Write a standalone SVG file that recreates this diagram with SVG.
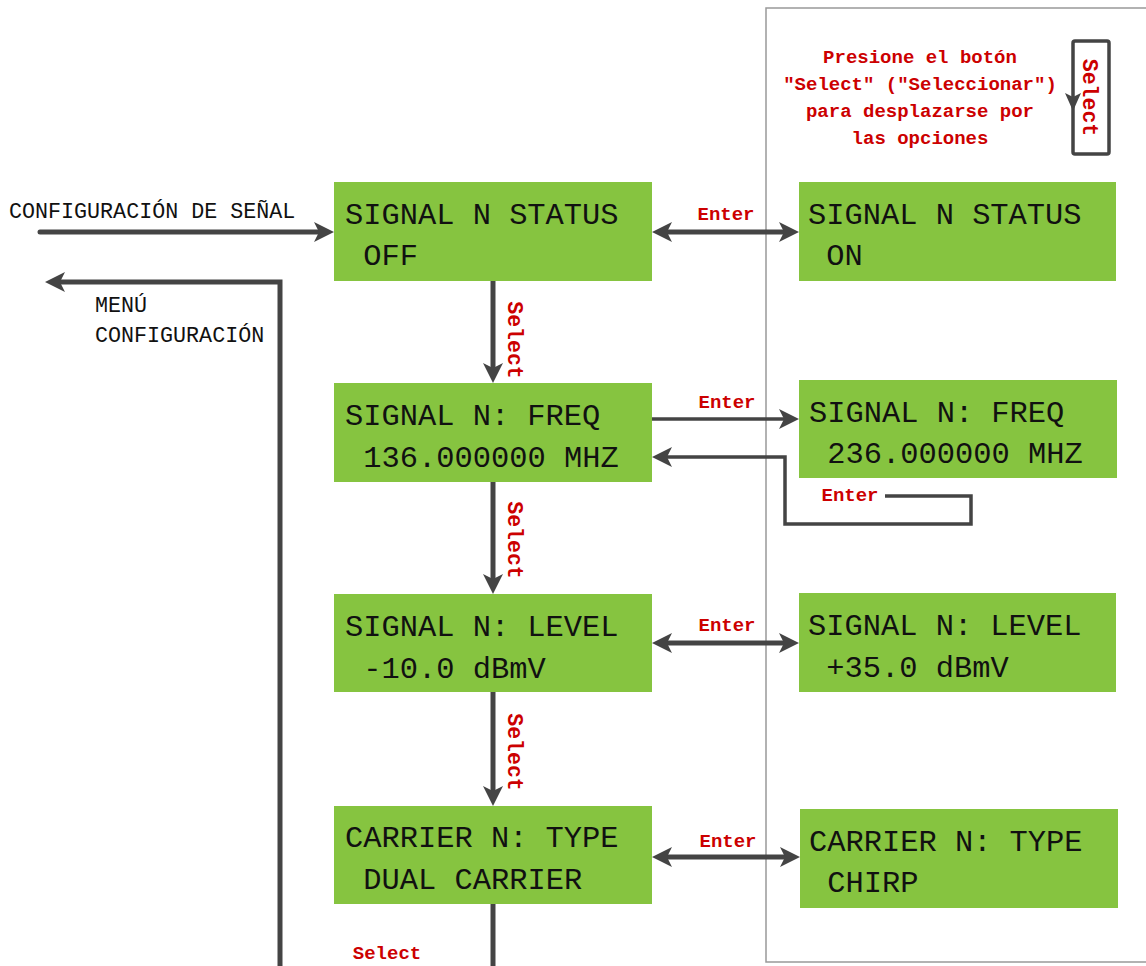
<svg xmlns="http://www.w3.org/2000/svg" width="1146" height="966" viewBox="0 0 1146 966">
  <style>
    .box { fill: #86C440; }
    .lcd { font-family: "Liberation Mono", "DejaVu Sans Mono", monospace; font-size: 30.4px; fill: #111; }
    .lbl { font-family: "Liberation Mono", "DejaVu Sans Mono", monospace; font-size: 19px; font-weight: bold; fill: #CC0000; }
    .vlbl { font-family: "Liberation Mono", "DejaVu Sans Mono", monospace; font-size: 21.5px; font-weight: bold; fill: #CC0000; }
    .plain { font-family: "Liberation Mono", "DejaVu Sans Mono", monospace; font-size: 21.7px; fill: #111; }
    .wire { fill: none; stroke: #444; stroke-width: 5; }
    .thin { fill: none; stroke: #444; stroke-width: 3.5; }
    .panel { fill: none; stroke: #999; stroke-width: 1.5; }
  </style>
  <defs>
    <marker id="head" markerUnits="userSpaceOnUse" markerWidth="20" markerHeight="20" viewBox="0 0 20 20" refX="5" refY="10" orient="auto-start-reverse">
      <path d="M0,0 L20,10 L0,20 L5,10 Z" fill="#444"/>
    </marker>
  </defs>

  <rect width="1146" height="966" fill="#fff"/>

  <!-- framed area holding the edited values -->
  <path class="panel" d="M1146,8 H766 V962 H1146"/>

  <!-- legend -->
  <g id="legend">
    <text class="lbl" x="920" y="63" text-anchor="middle">Presione el botón</text>
    <text class="lbl" x="920" y="90" text-anchor="middle">"Select" ("Seleccionar")</text>
    <text class="lbl" x="920" y="117" text-anchor="middle">para desplazarse por</text>
    <text class="lbl" x="920" y="144" text-anchor="middle">las opciones</text>
    <rect x="1073" y="41" width="36" height="113" rx="2" fill="none" stroke="#444" stroke-width="3.5"/>
    <path d="M1065,93 L1073,111 L1081,93 L1073,97 Z" fill="#444"/>
    <text class="vlbl" text-anchor="middle" transform="translate(1083,97.5) rotate(90)">Select</text>
  </g>

  <!-- connectors -->
  <g id="connectors">
    <path class="wire" d="M40,232 H319" stroke-linecap="round" marker-end="url(#head)"/>
    <path class="wire" d="M280,966 V282 H60" marker-end="url(#head)"/>
    <path class="wire" d="M493,904 V966"/>

    <path class="wire" d="M493,281 V368" marker-end="url(#head)"/>
    <path class="wire" d="M493,482 V579" marker-end="url(#head)"/>
    <path class="wire" d="M493,692 V791" marker-end="url(#head)"/>

    <path class="wire" d="M667,232 H784" marker-start="url(#head)" marker-end="url(#head)"/>
    <path class="thin" d="M652,419 H784" marker-end="url(#head)"/>
    <path class="thin" d="M885,496 H971 V524 H785 V457 H667" marker-end="url(#head)"/>
    <path class="wire" d="M667,643 H784" marker-start="url(#head)" marker-end="url(#head)"/>
    <path class="wire" d="M667,857 H785" marker-start="url(#head)" marker-end="url(#head)"/>

    <text class="vlbl" text-anchor="middle" transform="translate(508,340) rotate(90)">Select</text>
    <text class="vlbl" text-anchor="middle" transform="translate(508,540) rotate(90)">Select</text>
    <text class="vlbl" text-anchor="middle" transform="translate(508,752) rotate(90)">Select</text>
    <text class="lbl" x="387" y="959" text-anchor="middle">Select</text>

    <text class="lbl" x="726" y="220" text-anchor="middle">Enter</text>
    <text class="lbl" x="727" y="408" text-anchor="middle">Enter</text>
    <text class="lbl" x="850" y="501" text-anchor="middle">Enter</text>
    <text class="lbl" x="727" y="631" text-anchor="middle">Enter</text>
    <text class="lbl" x="728" y="847" text-anchor="middle">Enter</text>

    <text class="plain" x="9" y="218">CONFIGURACIÓN DE SEÑAL</text>
    <text class="plain" x="95" y="312">MENÚ</text>
    <text class="plain" x="95" y="342">CONFIGURACIÓN</text>
  </g>

  <!-- left column: current values -->
  <g id="status-off">
    <rect class="box" x="334" y="182" width="318" height="99"/>
    <text class="lcd" x="345" y="224">SIGNAL N STATUS</text>
    <text class="lcd" x="363.3" y="265">OFF</text>
  </g>
  <g id="freq-136">
    <rect class="box" x="334" y="383" width="318" height="99"/>
    <text class="lcd" x="345" y="425">SIGNAL N: FREQ</text>
    <text class="lcd" x="363.3" y="467">136.000000 MHZ</text>
  </g>
  <g id="level-minus10">
    <rect class="box" x="334" y="594" width="318" height="98"/>
    <text class="lcd" x="345" y="636">SIGNAL N: LEVEL</text>
    <text class="lcd" x="363.3" y="678">-10.0 dBmV</text>
  </g>
  <g id="carrier-dual">
    <rect class="box" x="334" y="806" width="318" height="98"/>
    <text class="lcd" x="345" y="847">CARRIER N: TYPE</text>
    <text class="lcd" x="363.3" y="889">DUAL CARRIER</text>
  </g>

  <!-- right column: edited values -->
  <g id="status-on">
    <rect class="box" x="799" y="182" width="317" height="99"/>
    <text class="lcd" x="808" y="224">SIGNAL N STATUS</text>
    <text class="lcd" x="826.3" y="265">ON</text>
  </g>
  <g id="freq-236">
    <rect class="box" x="799" y="380" width="318" height="98"/>
    <text class="lcd" x="809" y="422">SIGNAL N: FREQ</text>
    <text class="lcd" x="827.3" y="463">236.000000 MHZ</text>
  </g>
  <g id="level-plus35">
    <rect class="box" x="799" y="593" width="317" height="99"/>
    <text class="lcd" x="808" y="635">SIGNAL N: LEVEL</text>
    <text class="lcd" x="826.3" y="677">+35.0 dBmV</text>
  </g>
  <g id="carrier-chirp">
    <rect class="box" x="800" y="809" width="318" height="99"/>
    <text class="lcd" x="809" y="851">CARRIER N: TYPE</text>
    <text class="lcd" x="827.3" y="892">CHIRP</text>
  </g>
</svg>
